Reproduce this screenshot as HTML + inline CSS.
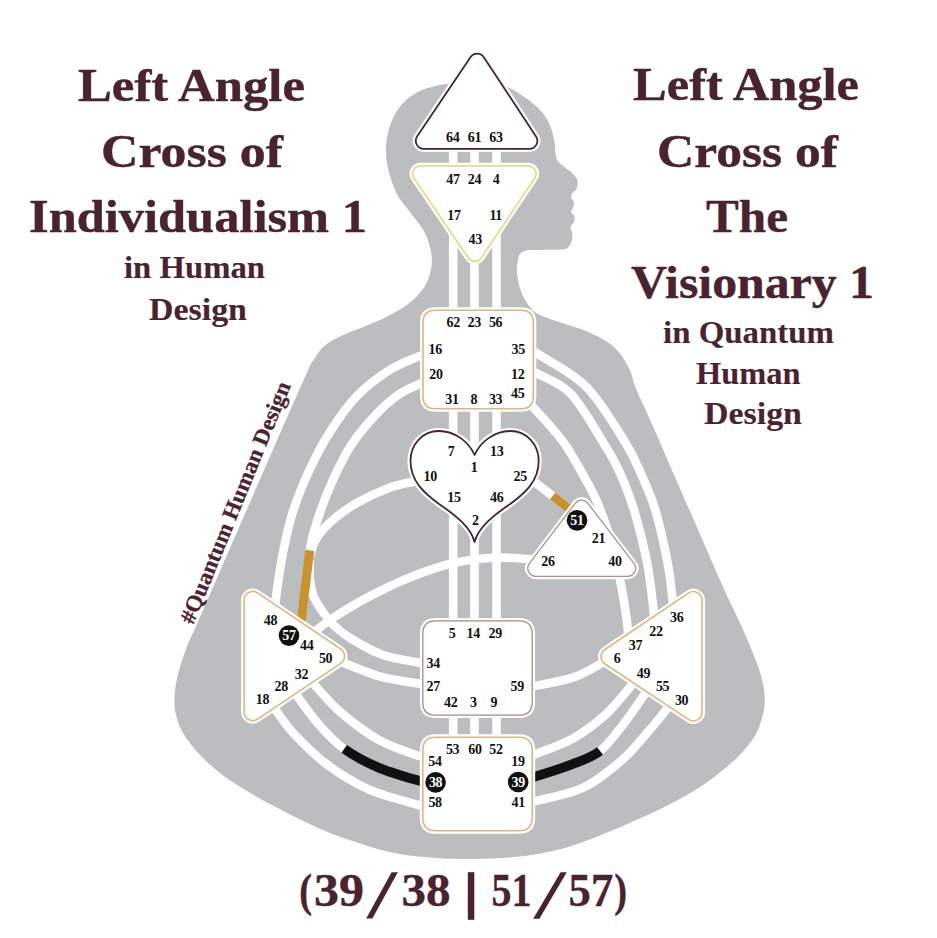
<!DOCTYPE html>
<html><head><meta charset="utf-8"><title>Left Angle Cross of Individualism 1</title>
<style>
html,body{margin:0;padding:0;background:#fff;}
body{width:937px;height:938px;overflow:hidden;font-family:"Liberation Serif",serif;}
svg{display:block}
.t{font-family:"Liberation Serif",serif;font-weight:bold;fill:#4a2331;stroke:#4a2331;stroke-width:0.4px;stroke-linejoin:round;}
.n{font-family:"Liberation Serif",serif;font-weight:bold;font-size:14px;text-anchor:middle;letter-spacing:-0.3px;}
</style></head><body>
<svg width="937" height="938" viewBox="0 0 937 938">
<rect width="937" height="938" fill="#fff"/>
<path d="M476.0,82.5 C482.2,82.7 489.3,83.0 495.0,84.0 C500.7,85.0 504.8,85.8 510.0,88.2 C515.2,90.6 521.3,94.7 526.4,98.4 C531.5,102.1 536.6,106.1 540.5,110.5 C544.4,114.9 547.4,119.6 549.7,124.7 C552.0,129.8 553.3,135.9 554.3,141.0 C555.3,146.1 555.0,151.5 555.7,155.0 C556.5,158.5 556.6,159.6 558.8,162.2 C561.0,164.8 566.0,167.8 568.9,170.3 C571.8,172.8 574.5,175.2 576.0,177.4 C577.5,179.6 577.6,181.5 577.6,183.5 C577.6,185.5 576.9,187.9 576.0,189.6 C575.1,191.3 572.8,192.3 572.0,193.7 C571.2,195.0 570.7,196.3 571.0,197.7 C571.3,199.0 573.7,200.1 574.0,201.8 C574.3,203.5 573.5,206.1 573.0,207.8 C572.5,209.5 570.7,210.5 571.0,211.9 C571.3,213.3 574.1,214.3 574.6,216.0 C575.1,217.7 574.7,220.2 574.0,222.0 C573.3,223.8 570.8,225.3 570.5,227.0 C570.2,228.7 571.8,229.8 572.0,232.0 C572.2,234.2 572.7,237.7 572.0,240.3 C571.3,242.9 569.8,245.9 567.9,247.4 C566.0,248.9 565.4,249.2 560.8,249.6 C556.2,250.0 546.2,249.9 540.5,250.0 C534.8,250.1 529.8,249.8 526.4,250.4 C523.0,251.0 521.7,251.9 520.3,253.5 C518.9,255.1 518.5,256.8 518.0,260.0 C517.5,263.2 516.6,267.7 517.0,272.7 C517.4,277.7 518.8,284.7 520.5,289.8 C522.2,294.9 524.4,299.4 527.3,303.4 C530.1,307.4 532.2,310.6 537.6,313.7 C543.0,316.8 551.8,319.4 559.8,322.2 C567.8,325.0 577.7,327.6 585.4,330.7 C593.1,333.8 600.2,337.3 605.9,341.0 C611.6,344.7 615.5,348.2 619.5,353.0 C623.5,357.8 626.9,363.8 629.8,370.0 C632.6,376.2 632.4,379.8 636.6,390.0 C640.8,400.2 641.1,399.3 655.0,431.0 C668.9,462.7 705.6,547.4 720.0,580.0 C734.4,612.6 735.4,612.5 741.6,626.4 C747.8,640.3 753.4,653.6 757.0,663.4 C760.6,673.2 761.9,678.3 763.2,685.0 C764.5,691.7 765.0,697.9 764.8,703.6 C764.5,709.3 763.5,713.3 761.7,719.0 C759.9,724.7 758.4,730.9 754.0,737.6 C749.6,744.3 743.6,751.5 735.4,759.2 C727.1,766.9 715.8,776.3 704.5,784.0 C693.2,791.7 680.3,798.9 667.4,805.6 C654.5,812.3 641.7,817.8 627.3,824.0 C612.9,830.2 593.9,838.1 581.0,842.7 C568.1,847.3 561.0,849.1 550.0,851.5 C539.0,853.9 527.3,855.8 515.0,857.0 C502.7,858.2 489.0,858.8 476.0,859.0 C463.0,859.2 449.7,858.8 437.0,858.0 C424.3,857.2 411.8,856.1 400.0,854.0 C388.2,851.9 379.1,849.5 366.3,845.5 C353.5,841.5 338.4,836.6 323.0,830.0 C307.6,823.4 289.1,814.2 273.6,806.0 C258.2,797.8 242.2,788.6 230.3,780.5 C218.5,772.4 210.2,765.2 202.5,757.5 C194.8,749.8 188.4,741.4 184.0,734.5 C179.6,727.6 177.9,722.2 176.3,716.0 C174.7,709.8 174.1,704.3 174.5,697.0 C174.9,689.7 176.2,680.8 178.5,672.0 C180.8,663.2 184.7,652.5 188.0,644.0 C191.3,635.5 187.9,644.8 198.4,620.8 C208.9,596.8 233.3,540.5 251.0,500.0 C268.7,459.4 294.3,400.9 304.8,377.5 C315.3,354.1 310.7,365.1 313.9,359.8 C317.1,354.6 319.6,350.0 324.2,346.0 C328.8,342.0 334.1,339.3 341.2,335.9 C348.3,332.5 358.2,329.3 366.8,325.6 C375.4,321.9 384.8,318.0 392.5,313.7 C400.2,309.4 407.3,305.1 413.0,300.0 C418.7,294.9 423.5,289.0 426.6,283.0 C429.7,277.0 431.1,270.0 431.7,264.0 C432.3,258.0 431.4,252.7 430.0,247.0 C428.6,241.3 426.5,235.8 423.2,230.0 C419.9,224.2 414.2,217.7 410.0,212.0 C405.8,206.3 401.3,202.0 398.0,196.0 C394.7,190.0 392.0,182.8 390.0,176.0 C388.0,169.2 386.4,161.8 386.0,155.0 C385.6,148.2 386.2,141.5 387.5,135.0 C388.8,128.5 391.1,121.7 394.0,116.0 C396.9,110.3 400.7,105.2 405.0,101.0 C409.3,96.8 414.2,93.7 420.0,91.0 C425.8,88.3 433.7,86.3 440.0,85.0 C446.3,83.7 452.0,83.4 458.0,83.0 C464.0,82.6 469.8,82.3 476.0,82.5 Z" fill="#bbbdbf"/>
<g>
<path d="M453.2,140 L453.2,760" fill="none" stroke="#fff" stroke-width="8.6" stroke-linecap="butt"/>
<path d="M474.5,140 L474.5,760" fill="none" stroke="#fff" stroke-width="8.6" stroke-linecap="butt"/>
<path d="M496.5,140 L496.5,760" fill="none" stroke="#fff" stroke-width="8.6" stroke-linecap="butt"/>
<path d="M430.0,352.0 C428.5,352.6 427.7,352.5 420.8,355.6 C413.9,358.7 399.4,363.8 388.7,370.6 C378.0,377.4 366.3,386.2 356.7,396.2 C347.1,406.1 338.8,418.2 331.0,430.3 C323.2,442.4 316.3,455.2 310.0,468.7 C303.7,482.2 297.4,497.8 293.0,511.4 C288.6,524.9 286.2,536.9 283.5,550.0 C280.8,563.1 278.8,577.5 277.0,590.0 C275.2,602.5 273.7,619.2 273.0,625.0 " fill="none" stroke="#fff" stroke-width="8.6" stroke-linecap="butt"/>
<path d="M430.0,379.5 C428.5,380.1 425.9,381.0 420.8,383.4 C415.7,385.8 406.9,388.8 399.4,394.0 C391.9,399.2 384.1,405.9 376.0,414.5 C367.9,423.1 358.1,434.5 351.0,445.3 C343.9,456.1 338.3,468.4 333.2,479.4 C328.1,490.4 323.8,502.1 320.4,511.4 C317.0,520.7 314.8,528.4 313.0,535.0 C311.2,541.6 310.9,542.7 309.7,551.0 C308.4,559.3 306.9,573.7 305.5,585.0 C304.1,596.3 302.5,609.8 301.4,619.0 C300.3,628.2 299.4,636.5 299.0,640.0 " fill="none" stroke="#fff" stroke-width="8.6" stroke-linecap="butt"/>
<path d="M425.0,479.5 C423.2,479.8 420.4,480.1 414.4,481.5 C408.3,482.9 398.3,484.4 388.7,488.0 C379.1,491.6 365.6,498.0 356.7,503.0 C347.8,508.0 341.1,513.3 335.4,517.8 C329.7,522.3 326.2,525.8 322.6,530.0 C319.0,534.2 316.1,538.7 314.0,543.0 C311.9,547.3 310.7,553.8 310.0,556.0 " fill="none" stroke="#fff" stroke-width="8.6" stroke-linecap="butt"/>
<path d="M430.0,663.5 C428.7,663.4 429.8,664.4 422.0,663.0 C414.2,661.6 395.0,659.2 383.0,655.0 C371.0,650.8 358.3,643.1 350.0,638.0 C341.7,632.9 337.7,629.2 333.0,624.5 C328.3,619.8 324.9,614.8 321.6,610.0 C318.4,605.2 315.5,601.2 313.5,596.0 C311.5,590.8 310.4,585.0 309.8,579.0 C309.2,573.0 309.8,563.2 309.8,560.0 " fill="none" stroke="#fff" stroke-width="8.6" stroke-linecap="butt"/>
<path d="M535.0,559.5 C533.8,559.4 534.3,559.3 527.5,559.0 C520.7,558.7 506.5,557.0 494.0,557.7 C481.5,558.4 466.4,560.1 452.6,563.3 C438.8,566.5 424.9,571.5 411.0,577.0 C397.1,582.5 381.5,590.1 369.0,596.6 C356.5,603.1 344.7,610.4 336.0,616.0 C327.3,621.6 321.8,626.0 316.6,630.0 C311.4,634.0 306.9,638.3 305.0,640.0 " fill="none" stroke="#fff" stroke-width="8.6" stroke-linecap="butt"/>
<path d="M430.0,684.5 C428.3,684.4 428.4,685.2 420.0,683.8 C411.6,682.4 391.8,679.7 379.4,676.3 C366.9,672.9 352.7,666.5 345.3,663.5 C337.9,660.5 336.7,658.9 335.0,658.0 " fill="none" stroke="#fff" stroke-width="8.6" stroke-linecap="butt"/>
<path d="M430.0,757.5 C428.3,757.3 428.4,759.2 420.0,756.3 C411.6,753.4 392.6,747.6 379.4,740.3 C366.2,733.0 351.7,721.7 341.0,712.6 C330.3,703.5 321.4,692.5 315.4,685.9 C309.4,679.3 306.7,675.1 305.0,673.0 " fill="none" stroke="#fff" stroke-width="8.6" stroke-linecap="butt"/>
<path d="M430.0,781.5 C428.3,781.4 428.4,783.1 420.0,780.9 C411.6,778.6 392.0,773.3 379.4,768.0 C366.8,762.7 354.2,756.0 344.2,748.9 C334.2,741.8 327.2,733.9 319.6,725.4 C312.0,716.9 303.6,704.8 298.3,697.6 C293.0,690.4 289.7,684.6 288.0,682.0 " fill="none" stroke="#fff" stroke-width="8.6" stroke-linecap="butt"/>
<path d="M430.0,806.5 C428.3,806.3 430.2,808.2 420.0,805.4 C409.8,802.5 384.4,796.3 368.7,789.4 C353.0,782.5 338.4,773.0 326.0,763.8 C313.6,754.5 302.4,742.8 294.0,733.9 C285.6,725.0 280.6,716.7 275.9,710.4 C271.2,704.1 267.6,698.4 266.0,696.0 " fill="none" stroke="#fff" stroke-width="8.6" stroke-linecap="butt"/>
<path d="M528.0,348.0 C529.5,348.9 527.6,347.3 537.3,353.7 C547.0,360.1 571.4,371.8 586.0,386.5 C600.6,401.2 615.8,427.2 625.0,442.0 C634.2,456.8 636.4,463.5 641.5,475.0 C646.6,486.5 651.3,496.4 655.6,511.0 C659.9,525.5 664.8,548.6 667.5,562.3 C670.2,576.0 670.7,584.7 671.8,593.0 C672.9,601.3 673.6,608.8 674.0,612.0 " fill="none" stroke="#fff" stroke-width="8.6" stroke-linecap="butt"/>
<path d="M528.0,369.0 C529.5,369.8 529.8,369.3 537.0,373.5 C544.2,377.7 559.5,381.8 571.0,394.0 C582.5,406.2 597.8,433.8 606.0,447.0 C614.2,460.2 615.3,462.3 620.0,473.0 C624.7,483.7 629.8,496.2 634.3,511.0 C638.8,525.8 643.9,546.3 647.0,562.0 C650.1,577.7 651.8,595.0 653.0,605.0 C654.2,615.0 654.2,619.2 654.5,622.0 " fill="none" stroke="#fff" stroke-width="8.6" stroke-linecap="butt"/>
<path d="M526.0,400.0 C527.1,401.1 526.5,399.8 532.8,406.8 C539.0,413.8 554.5,429.7 563.5,442.2 C572.5,454.7 581.1,471.4 587.0,482.0 C592.9,492.6 594.5,495.1 598.7,505.6 C602.9,516.1 608.5,532.9 612.0,545.0 C615.5,557.1 617.3,565.8 619.8,578.3 C622.3,590.8 625.3,608.9 626.8,620.0 C628.2,631.1 628.2,640.8 628.5,645.0 " fill="none" stroke="#fff" stroke-width="8.6" stroke-linecap="butt"/>
<path d="M528,477 L574,512.5" fill="none" stroke="#fff" stroke-width="8.6" stroke-linecap="butt"/>
<path d="M528.0,686.5 C529.2,686.4 527.4,687.4 535.0,685.9 C542.6,684.4 562.4,681.1 573.4,677.4 C584.4,673.7 594.9,666.9 601.0,663.5 C607.1,660.1 608.5,658.1 610.0,657.0 " fill="none" stroke="#fff" stroke-width="8.6" stroke-linecap="butt"/>
<path d="M528.0,755.5 C529.2,755.3 527.4,757.1 535.0,754.2 C542.6,751.3 561.7,744.8 573.4,738.2 C585.1,731.6 595.8,723.4 605.4,714.7 C615.0,706.0 625.2,692.9 631.0,685.9 C636.8,678.9 638.5,675.1 640.0,673.0 " fill="none" stroke="#fff" stroke-width="8.6" stroke-linecap="butt"/>
<path d="M528.0,777.5 C529.2,777.4 527.4,778.9 535.0,776.6 C542.6,774.3 562.6,768.1 573.4,763.8 C584.2,759.5 591.8,757.4 600.0,751.0 C608.2,744.6 615.2,734.6 622.5,725.4 C629.8,716.1 638.9,702.7 643.8,695.5 C648.7,688.3 650.6,684.2 652.0,682.0 " fill="none" stroke="#fff" stroke-width="8.6" stroke-linecap="butt"/>
<path d="M528.0,802.5 C529.2,802.3 525.7,803.7 535.0,801.2 C544.3,798.7 569.4,794.2 584.0,787.3 C598.6,780.3 611.8,768.8 622.5,759.5 C633.2,750.2 640.5,740.3 648.0,731.8 C655.5,723.3 662.6,714.3 667.3,708.3 C672.0,702.3 674.5,698.0 676.0,696.0 " fill="none" stroke="#fff" stroke-width="8.6" stroke-linecap="butt"/>
<path d="M430.0,379.5 C428.5,380.1 425.9,381.0 420.8,383.4 C415.7,385.8 406.9,388.8 399.4,394.0 C391.9,399.2 384.1,405.9 376.0,414.5 C367.9,423.1 358.1,434.5 351.0,445.3 C343.9,456.1 338.3,468.4 333.2,479.4 C328.1,490.4 323.8,502.1 320.4,511.4 C317.0,520.7 314.8,528.4 313.0,535.0 C311.2,541.6 310.9,542.7 309.7,551.0 C308.4,559.3 306.9,573.7 305.5,585.0 C304.1,596.3 302.5,609.8 301.4,619.0 C300.3,628.2 299.4,636.5 299.0,640.0 " fill="none" stroke="#c8922f" stroke-width="9" stroke-linecap="butt" stroke-dasharray="0 218.3 200 1"/>
<path d="M552.6,496 L572,511" fill="none" stroke="#c8922f" stroke-width="8.6" stroke-linecap="butt"/>
<path d="M430.0,781.5 C428.3,781.4 428.4,783.1 420.0,780.9 C411.6,778.6 392.0,773.3 379.4,768.0 C366.8,762.7 354.2,756.0 344.2,748.9 C334.2,741.8 327.2,733.9 319.6,725.4 C312.0,716.9 303.6,704.8 298.3,697.6 C293.0,690.4 289.7,684.6 288.0,682.0 " fill="none" stroke="#111" stroke-width="9.6" stroke-linecap="butt" stroke-dasharray="92.9 999"/>
<path d="M528.0,777.5 C529.2,777.4 527.4,778.9 535.0,776.6 C542.6,774.3 562.6,768.1 573.4,763.8 C584.2,759.5 591.8,757.4 600.0,751.0 C608.2,744.6 615.2,734.6 622.5,725.4 C629.8,716.1 638.9,702.7 643.8,695.5 C648.7,688.3 650.6,684.2 652.0,682.0 " fill="none" stroke="#111" stroke-width="9.6" stroke-linecap="butt" stroke-dasharray="77.4 999"/>
</g>
<g>
<path d="M470.49,57.16 A8,8 0 0 1 483.81,57.22 L536.02,136.40 A8,8 0 0 1 529.34,148.80 L423.83,148.80 A8,8 0 0 1 417.19,136.33 Z" fill="#fff" stroke="#fff" stroke-width="6.2" stroke-linejoin="round"/>
<path d="M470.49,57.16 A8,8 0 0 1 483.81,57.22 L536.02,136.40 A8,8 0 0 1 529.34,148.80 L423.83,148.80 A8,8 0 0 1 417.19,136.33 Z" fill="#fff" stroke="#4a2331" stroke-width="1.8" stroke-linejoin="round"/>
<path d="M414.02,178.30 A8,8 0 0 1 420.63,165.80 L528.00,165.80 A8,8 0 0 1 534.65,178.26 L481.39,257.67 A8,8 0 0 1 468.14,257.72 Z" fill="#fff" stroke="#fff" stroke-width="6.2" stroke-linejoin="round"/>
<path d="M414.02,178.30 A8,8 0 0 1 420.63,165.80 L528.00,165.80 A8,8 0 0 1 534.65,178.26 L481.39,257.67 A8,8 0 0 1 468.14,257.72 Z" fill="#fff" stroke="#ecd98a" stroke-width="1.8" stroke-linejoin="round"/>
<path d="M435.5,310.2 H520.8 Q533.3,310.2 533.3,322.7 V396.2 Q533.3,408.7 520.8,408.7 H435.5 Q423,408.7 423,396.2 V322.7 Q423,310.2 435.5,310.2 Z" fill="#fff" stroke="#fff" stroke-width="6.0" stroke-linejoin="round"/>
<path d="M435.5,310.2 H520.8 Q533.3,310.2 533.3,322.7 V396.2 Q533.3,408.7 520.8,408.7 H435.5 Q423,408.7 423,396.2 V322.7 Q423,310.2 435.5,310.2 Z" fill="#fff" stroke="#e3b57c" stroke-width="1.6" stroke-linejoin="round"/>
<path d="M474.6,542 C471,528 458,517 438.7,503.7 C424,493 410.5,481 410.5,461 C410.5,444 423,431 438.7,431 C455,431 469,442 474.6,455 C480.2,442 494.2,431 510.5,431 C526.2,431 538.7,444 538.7,461 C538.7,481 525.2,493 510.5,503.7 C491.2,517 478.2,528 474.6,542 Z" fill="#fff" stroke="#fff" stroke-width="6.2" stroke-linejoin="round"/>
<path d="M474.6,542 C471,528 458,517 438.7,503.7 C424,493 410.5,481 410.5,461 C410.5,444 423,431 438.7,431 C455,431 469,442 474.6,455 C480.2,442 494.2,431 510.5,431 C526.2,431 538.7,444 538.7,461 C538.7,481 525.2,493 510.5,503.7 C491.2,517 478.2,528 474.6,542 Z" fill="#fff" stroke="#4a2331" stroke-width="1.8" stroke-linejoin="round"/>
<path d="M575.16,503.34 A8,8 0 0 1 587.88,503.32 L633.94,563.43 A8,8 0 0 1 627.59,576.30 L535.83,576.30 A8,8 0 0 1 529.46,563.46 Z" fill="#fff" stroke="#fff" stroke-width="5.7" stroke-linejoin="round"/>
<path d="M575.16,503.34 A8,8 0 0 1 587.88,503.32 L633.94,563.43 A8,8 0 0 1 627.59,576.30 L535.83,576.30 A8,8 0 0 1 529.46,563.46 Z" fill="#fff" stroke="#b3908c" stroke-width="1.3" stroke-linejoin="round"/>
<path d="M435.8,620.8 H519.2 Q532.2,620.8 532.2,633.8 V702.1999999999999 Q532.2,715.1999999999999 519.2,715.1999999999999 H435.8 Q422.8,715.1999999999999 422.8,702.1999999999999 V633.8 Q422.8,620.8 435.8,620.8 Z" fill="#fff" stroke="#fff" stroke-width="5.7" stroke-linejoin="round"/>
<path d="M435.8,620.8 H519.2 Q532.2,620.8 532.2,633.8 V702.1999999999999 Q532.2,715.1999999999999 519.2,715.1999999999999 H435.8 Q422.8,715.1999999999999 422.8,702.1999999999999 V633.8 Q422.8,620.8 435.8,620.8 Z" fill="#fff" stroke="#ab8884" stroke-width="1.3" stroke-linejoin="round"/>
<path d="M435.8,737.3 H519.2 Q532.2,737.3 532.2,750.3 V817.6999999999999 Q532.2,830.6999999999999 519.2,830.6999999999999 H435.8 Q422.8,830.6999999999999 422.8,817.6999999999999 V750.3 Q422.8,737.3 435.8,737.3 Z" fill="#fff" stroke="#fff" stroke-width="6.0" stroke-linejoin="round"/>
<path d="M435.8,737.3 H519.2 Q532.2,737.3 532.2,750.3 V817.6999999999999 Q532.2,830.6999999999999 519.2,830.6999999999999 H435.8 Q422.8,830.6999999999999 422.8,817.6999999999999 V750.3 Q422.8,737.3 435.8,737.3 Z" fill="#fff" stroke="#e3b57c" stroke-width="1.6" stroke-linejoin="round"/>
<path d="M244.10,600.17 A8.7,8.7 0 0 1 257.67,592.95 L340.68,648.97 A8.7,8.7 0 0 1 340.66,663.40 L257.65,719.11 A8.7,8.7 0 0 1 244.10,711.89 Z" fill="#fff" stroke="#fff" stroke-width="6.0" stroke-linejoin="round"/>
<path d="M244.10,600.17 A8.7,8.7 0 0 1 257.67,592.95 L340.68,648.97 A8.7,8.7 0 0 1 340.66,663.40 L257.65,719.11 A8.7,8.7 0 0 1 244.10,711.89 Z" fill="#fff" stroke="#e3b57c" stroke-width="1.6" stroke-linejoin="round"/>
<path d="M702.00,600.36 A8.7,8.7 0 0 0 688.43,593.15 L604.88,649.53 A8.7,8.7 0 0 0 604.93,663.99 L688.49,719.43 A8.7,8.7 0 0 0 702.00,712.19 Z" fill="#fff" stroke="#fff" stroke-width="6.0" stroke-linejoin="round"/>
<path d="M702.00,600.36 A8.7,8.7 0 0 0 688.43,593.15 L604.88,649.53 A8.7,8.7 0 0 0 604.93,663.99 L688.49,719.43 A8.7,8.7 0 0 0 702.00,712.19 Z" fill="#fff" stroke="#e3b57c" stroke-width="1.6" stroke-linejoin="round"/>
</g>
<g fill="#111">
<text x="452.8" y="141.5" class="n">64</text>
<text x="474.5" y="141.5" class="n">61</text>
<text x="496" y="141.5" class="n">63</text>
<text x="453" y="184" class="n">47</text>
<text x="474.5" y="184" class="n">24</text>
<text x="496" y="184" class="n">4</text>
<text x="454" y="219.7" class="n">17</text>
<text x="495.7" y="219.7" class="n">11</text>
<text x="475.2" y="244" class="n">43</text>
<text x="453.3" y="326.7" class="n">62</text>
<text x="474.3" y="326.7" class="n">23</text>
<text x="495.6" y="326.7" class="n">56</text>
<text x="435.3" y="353.5" class="n">16</text>
<text x="435.9" y="378.8" class="n">20</text>
<text x="518.2" y="353.5" class="n">35</text>
<text x="517.8" y="378.8" class="n">12</text>
<text x="517.8" y="397.6" class="n">45</text>
<text x="452" y="404" class="n">31</text>
<text x="473.8" y="404" class="n">8</text>
<text x="495.6" y="404" class="n">33</text>
<text x="451" y="456.2" class="n">7</text>
<text x="496.8" y="456.2" class="n">13</text>
<text x="474.2" y="472" class="n">1</text>
<text x="430.2" y="480.6" class="n">10</text>
<text x="520.3" y="480.6" class="n">25</text>
<text x="454" y="502" class="n">15</text>
<text x="496.8" y="502" class="n">46</text>
<text x="475.4" y="525" class="n">2</text>
<text x="598.5" y="543" class="n">21</text>
<text x="548" y="566" class="n">26</text>
<text x="615" y="566" class="n">40</text>
<text x="452" y="638" class="n">5</text>
<text x="473.3" y="638" class="n">14</text>
<text x="495.2" y="638" class="n">29</text>
<text x="433.3" y="668" class="n">34</text>
<text x="433.3" y="691.2" class="n">27</text>
<text x="517.3" y="691" class="n">59</text>
<text x="450.7" y="706.7" class="n">42</text>
<text x="473.3" y="706.7" class="n">3</text>
<text x="493.9" y="706.7" class="n">9</text>
<text x="452.6" y="753.8" class="n">53</text>
<text x="475" y="753.8" class="n">60</text>
<text x="495.9" y="753.8" class="n">52</text>
<text x="434.9" y="766" class="n">54</text>
<text x="518" y="766" class="n">19</text>
<text x="435.1" y="807" class="n">58</text>
<text x="518.3" y="807" class="n">41</text>
<text x="270.5" y="624.8" class="n">48</text>
<text x="306.8" y="649.6" class="n">44</text>
<text x="325.6" y="662.8" class="n">50</text>
<text x="301.5" y="679" class="n">32</text>
<text x="281.2" y="690.8" class="n">28</text>
<text x="262.4" y="703.6" class="n">18</text>
<text x="676.7" y="622.3" class="n">36</text>
<text x="656" y="635.8" class="n">22</text>
<text x="635.5" y="650" class="n">37</text>
<text x="617.2" y="663.4" class="n">6</text>
<text x="643.4" y="678" class="n">49</text>
<text x="662.6" y="691.2" class="n">55</text>
<text x="681.6" y="704.7" class="n">30</text>
<circle cx="289" cy="635.6" r="10.3" fill="#111"/>
<text x="289" y="640.2" class="n" fill="#fff">57</text>
<circle cx="577" cy="520.4" r="10.3" fill="#111"/>
<text x="577" y="525" class="n" fill="#fff">51</text>
<circle cx="435.6" cy="782.4" r="10.3" fill="#111"/>
<text x="435.6" y="787" class="n" fill="#fff">38</text>
<circle cx="518.2" cy="782.0" r="10.3" fill="#111"/>
<text x="518.2" y="786.6" class="n" fill="#fff">39</text>
</g>
<g>
<text x="78" y="100.5" font-size="46" textLength="227" lengthAdjust="spacingAndGlyphs" class="t">Left Angle</text>
<text x="101" y="167" font-size="46" textLength="182" lengthAdjust="spacingAndGlyphs" class="t">Cross of</text>
<text x="29" y="232" font-size="46" textLength="338" lengthAdjust="spacingAndGlyphs" class="t">Individualism 1</text>
<text x="124" y="278" font-size="31" textLength="141" lengthAdjust="spacingAndGlyphs" class="t" style="stroke-width:0.1px">in Human</text>
<text x="149" y="319.5" font-size="31" textLength="98" lengthAdjust="spacingAndGlyphs" class="t" style="stroke-width:0.1px">Design</text>
<text x="633" y="100" font-size="46" textLength="226" lengthAdjust="spacingAndGlyphs" class="t">Left Angle</text>
<text x="657" y="167" font-size="46" textLength="181" lengthAdjust="spacingAndGlyphs" class="t">Cross of</text>
<text x="706" y="232" font-size="46" textLength="82" lengthAdjust="spacingAndGlyphs" class="t">The</text>
<text x="631" y="298" font-size="46" textLength="243" lengthAdjust="spacingAndGlyphs" class="t">Visionary 1</text>
<text x="663" y="343" font-size="31" textLength="171" lengthAdjust="spacingAndGlyphs" class="t" style="stroke-width:0.1px">in Quantum</text>
<text x="696" y="383.5" font-size="31" textLength="104.5" lengthAdjust="spacingAndGlyphs" class="t" style="stroke-width:0.1px">Human</text>
<text x="704" y="424" font-size="31" textLength="98" lengthAdjust="spacingAndGlyphs" class="t" style="stroke-width:0.1px">Design</text>
<text x="299.2" y="906.3" font-size="46" textLength="12.800000000000011" lengthAdjust="spacingAndGlyphs" class="t">(</text>
<text x="314" y="906.3" font-size="46" textLength="50" lengthAdjust="spacingAndGlyphs" class="t">39</text>
<text x="401.4" y="906.3" font-size="46" textLength="49.0" lengthAdjust="spacingAndGlyphs" class="t">38</text>
<text x="491.6" y="906.3" font-size="46" textLength="39.89999999999998" lengthAdjust="spacingAndGlyphs" class="t">51</text>
<text x="568.6" y="906.3" font-size="46" textLength="44.60000000000002" lengthAdjust="spacingAndGlyphs" class="t">57</text>
<text x="614.2" y="906.3" font-size="46" textLength="12.799999999999955" lengthAdjust="spacingAndGlyphs" class="t">)</text>
<polygon points="366.2,918.6 372.4,918.6 397.8,872.2 391.6,872.2" fill="#4a2331"/>
<polygon points="533.2,918.8 539.4,918.8 566.8,872.2 560.6,872.2" fill="#4a2331"/>
<rect x="467.8" y="872.2" width="6.5" height="47.6" fill="#4a2331"/>
<text transform="translate(193.2,625.2) rotate(-67.8)" font-size="22.5" textLength="259" lengthAdjust="spacingAndGlyphs" class="t" style="stroke-width:0.3px">#Quantum Human Design</text>
</g>
</svg>
</body></html>
